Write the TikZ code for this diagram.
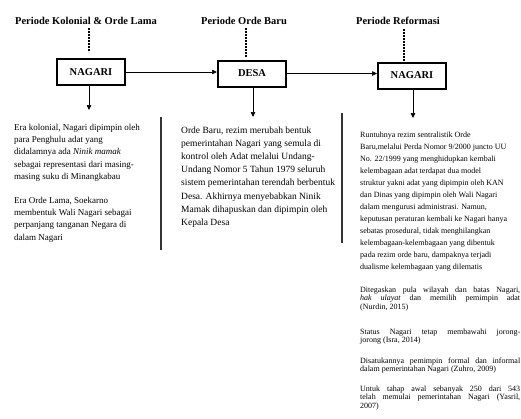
\documentclass[tikz,border=0pt]{standalone}
\usepackage{fontspec}
\setmainfont{Liberation Serif}
\usetikzlibrary{arrows.meta}
\begin{document}
\begin{tikzpicture}[x=1pt,y=-1pt,
  head/.style={font=\fontsize{10.5}{12}\selectfont\bfseries, inner sep=0, anchor=base},
  box/.style={draw, line width=2pt, font=\fontsize{10.5}{12}\selectfont\bfseries, minimum width=68pt, minimum height=26pt, inner sep=0},
  dots/.style={line width=1.8pt, dash pattern=on 1.6pt off 1.4pt},
  arr/.style={-{Triangle[length=5pt,width=4.5pt]}, line width=0.7pt},
  bar/.style={line width=2pt, draw=black!80},
  para/.style={inner sep=0, anchor=base west, align=left},
]
\useasboundingbox (0,0) rectangle (521,418);

% headings
\node[head] (h1) at (86,24.5) {Periode Kolonial \& Orde Lama};
\node[head] (h2) at (244,24.5) {Periode Orde Baru};
\node[head] (h3) at (398,24.5) {Periode Reformasi};

% boxes
\node[box] (b1) at (91,72) {NAGARI};
\node[box] (b2) at (252,73.5) {DESA};
\node[box] (b3) at (412,75.5) {NAGARI};

% dotted links
\coordinate (d1a) at (89,28);  \coordinate (d1b) at (89,52);
\coordinate (d2a) at (246,28); \coordinate (d2b) at (246,57);
\coordinate (d3a) at (404,29); \coordinate (d3b) at (404,61);
\draw[dots] (d1a) -- (d1b);
\draw[dots] (d2a) -- (d2b);
\draw[dots] (d3a) -- (d3b);

% horizontal arrows
\draw[arr] (b1.east) -- (b1.east -| b2.west);
\draw[arr] (b2.east) -- (b2.east -| b3.west);

% down arrows
\coordinate (t1) at (89,110);
\coordinate (t2) at (253,117);
\coordinate (t3) at (413,118);
\draw[arr] (b1.south -| t1) -- (t1);
\draw[arr] (b2.south -| t2) -- (t2);
\draw[arr] (b3.south -| t3) -- (t3);

% separator bars
\coordinate (s1a) at (161,117); \coordinate (s1b) at (161,250);
\coordinate (s2a) at (342,113); \coordinate (s2b) at (342,243);
\draw[bar] (s1a) -- (s1b);
\draw[bar] (s2a) -- (s2b);

% column 1 (anchor = baseline of last line)
\node[para, font=\fontsize{9}{12.2}\selectfont] (p1a) at (14,179.3) {Era kolonial, Nagari dipimpin oleh\\
para Penghulu adat yang\\
didalamnya ada \textit{Ninik mamak}\\
sebagai representasi dari masing-\\
masing suku di Minangkabau};
\node[para, font=\fontsize{9}{12.2}\selectfont] (p1b) at (14,240.1) {Era Orde Lama, Soekarno\\
membentuk Wali Nagari sebagai\\
perpanjang tanganan Negara di\\
dalam Nagari};

% column 2
\node[para, font=\fontsize{9.5}{13.1}\selectfont] (p2) at (181,225.2) {Orde Baru, rezim merubah bentuk\\
pemerintahan Nagari yang semula di\\
kontrol oleh Adat melalui Undang-\\
Undang Nomor 5 Tahun 1979 seluruh\\
sistem pemerintahan terendah berbentuk\\
Desa. Akhirnya menyebabkan Ninik\\
Mamak dihapuskan dan dipimpin oleh\\
Kepala Desa};

% column 3
\node[para, font=\fontsize{8}{12}\selectfont] (p3) at (360,269.5) {Runtuhnya rezim sentralistik Orde\\
Baru,melalui Perda Nomor 9/2000 juncto UU\\
No. 22/1999 yang menghidupkan kembali\\
kelembagaan adat terdapat dua model\\
struktur yakni adat yang dipimpin oleh KAN\\
dan Dinas yang dipimpin oleh Wali Nagari\\
dalam mengurusi administrasi. Namun,\\
keputusan peraturan kembali ke Nagari hanya\\
sebatas prosedural, tidak menghilangkan\\
kelembagaan-kelembagaan yang dibentuk\\
pada rezim orde baru, dampaknya terjadi\\
dualisme kelembagaan yang dilematis};

\node[para, font=\fontsize{8}{8.3}\selectfont] (q1) at (360,309.1) {\makebox[160pt][s]{Ditegaskan pula wilayah dan batas Nagari,}\\
\makebox[160pt][s]{\textit{hak ulayat} dan memilih pemimpin adat}\\
(Nurdin, 2015)};
\node[para, font=\fontsize{8}{8.3}\selectfont] (q2) at (360,342.8) {\makebox[160pt][s]{Status Nagari tetap membawahi jorong-}\\
jorong (Isra, 2014)};
\node[para, font=\fontsize{8}{8.3}\selectfont] (q3) at (360,371.8) {\makebox[160pt][s]{Disatukannya pemimpin formal dan informal}\\
dalam pemerintahan Nagari (Zuhro, 2009)};
\node[para, font=\fontsize{8}{8.3}\selectfont] (q4) at (360,408.1) {\makebox[160pt][s]{Untuk tahap awal sebanyak 250 dari 543}\\
\makebox[160pt][s]{telah memulai pemerintahan Nagari (Yasril,}\\
2007)};
\end{tikzpicture}
\end{document}
